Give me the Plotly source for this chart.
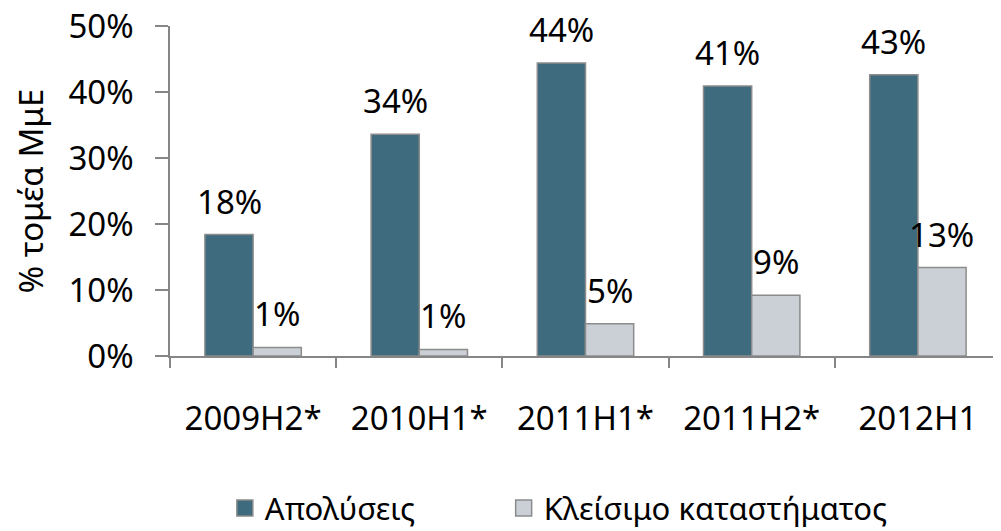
import plotly.graph_objects as go

periods = ["2009H2*", "2010H1*", "2011H1*", "2011H2*", "2012H1"]
layoffs = [18.4, 33.6, 44.4, 40.9, 42.6]
closures = [1.3, 1.0, 4.9, 9.2, 13.4]

FONT = "Noto Sans"
FS = 33
TEAL = "#3e6b7e"
GREY = "#cbd0d7"
EDGE = "#8c8c8c"

# page body has an 8px margin, so the figure is shrunk by that much
W, H = 993, 523

fig = go.Figure()
for name, values, color, shift, leg in [
    ("Απολύσεις", layoffs, TEAL, -24, "legend"),
    ("Κλείσιμο καταστήματος", closures, GREY, 24, "legend2"),
]:
    fig.add_bar(
        x=periods,
        y=[v / 100 for v in values],
        name=name,
        marker={"color": color, "line": {"color": EDGE, "width": 1.5}},
        showlegend=False,
    )
    # legend-only square marker, bigger than the default bar swatch
    fig.add_scatter(
        x=[None],
        y=[None],
        mode="markers",
        name=name,
        legend=leg,
        marker={"symbol": "square", "size": 19, "color": color,
                "line": {"color": EDGE, "width": 1.5}},
    )
    for p, v in zip(periods, values):
        fig.add_annotation(
            x=p,
            y=v / 100,
            text=f"{v:.0f}%",
            showarrow=False,
            xshift=shift,
            yshift=9,
            yanchor="bottom",
            font={"family": FONT, "size": FS, "color": "black"},
        )

legend_style = {
    "orientation": "h",
    "xanchor": "left",
    "y": -0.462,
    "yanchor": "middle",
    "font": {"size": 31},
}

fig.update_layout(
    width=W,
    height=H,
    autosize=False,
    margin={"l": 162, "r": 0, "t": 18, "b": 175, "autoexpand": False},
    paper_bgcolor="white",
    plot_bgcolor="white",
    font={"family": FONT, "size": FS, "color": "black"},
    barmode="group",
    bargap=0.42,
    bargroupgap=0,
    showlegend=True,
    legend={**legend_style, "x": 0.066},
    legend2={**legend_style, "x": 0.4015},
)

fig.update_yaxes(
    range=[0, 0.5],
    dtick=0.1,
    tickformat=".0%",
    showgrid=False,
    zeroline=False,
    showline=True,
    linecolor="#868686",
    linewidth=1.5,
    ticks="outside",
    ticklen=13,
    tickcolor="#868686",
    tickwidth=1.5,
    ticklabelstandoff=15,
    ticklabeloverflow="allow",
    automargin=False,
    title={"text": "% τομέα ΜμΕ", "standoff": 26, "font": {"size": FS}},
)

fig.update_xaxes(
    showgrid=False,
    showline=True,
    linecolor="#868686",
    linewidth=1.5,
    ticks="outside",
    tickson="boundaries",
    ticklen=10,
    tickcolor="#868686",
    tickwidth=1.5,
    ticklabelstandoff=33,
    automargin=False,
)

fig.write_html("out.html")
